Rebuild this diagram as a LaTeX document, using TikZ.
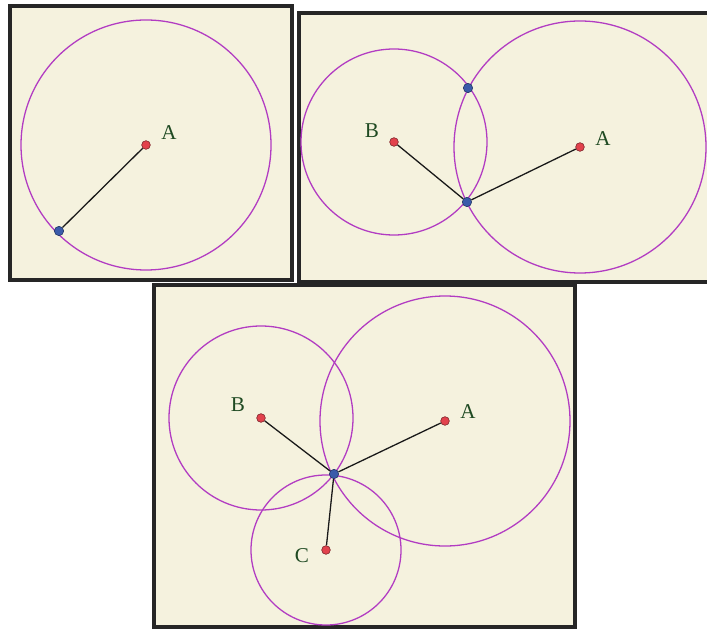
\documentclass[tikz,border=0pt]{standalone}
\usepackage{fontspec}
\setmainfont{Liberation Serif}
\usepackage{tikz}
\definecolor{paper}{HTML}{F5F2DE}
\definecolor{arcmag}{HTML}{B23CC2}
\definecolor{lblgreen}{HTML}{1F4A22}
\definecolor{ptred}{HTML}{E2424C}
\definecolor{ptblue}{HTML}{3A5BAA}
\tikzset{
  panel/.style={draw=black!85, line width=3.6pt, fill=paper},
  locus/.style={draw=arcmag, line width=1.1pt},
  spoke/.style={draw=black!90, line width=1.1pt},
  centre/.style={circle, draw=ptred!55!black, fill=ptred, minimum size=0.26cm, inner sep=0pt, line width=0.5pt},
  meet/.style={circle, draw=ptblue!60!black, fill=ptblue, minimum size=0.28cm, inner sep=0pt, line width=0.5pt},
  letter/.style={text=lblgreen, font=\fontsize{18}{20}\selectfont, inner sep=0pt}
}
\begin{document}
\begin{tikzpicture}[x=0.03cm, y=-0.03cm]
  \useasboundingbox (0,0) rectangle (707,629);
  \clip (0,0) rectangle (707,629);

  \draw[panel] (10,6) rectangle (292,280);
  \coordinate (a1) at (146,145);
  \draw[locus] (a1) circle[radius=125];
  \node[centre] (A1) at (a1) {};
  \node[meet] (P1) at (59,231) {};
  \draw[spoke] (A1) -- (P1);
  \node[letter] (lA1) at (169,133) {A};

  \draw[panel] (299,13) rectangle (720,282);
  \coordinate (b2) at (394,142);
  \coordinate (a2) at (580,147);
  \draw[locus] (b2) circle[radius=93];
  \draw[locus] (a2) circle[radius=126];
  \node[centre] (B2) at (b2) {};
  \node[centre] (A2) at (a2) {};
  \node[meet] (Q2) at (468,88) {};
  \node[meet] (P2) at (467,202) {};
  \draw[spoke] (B2) -- (P2);
  \draw[spoke] (A2) -- (P2);
  \node[letter] (lB2) at (372,131) {B};
  \node[letter] (lA2) at (603,139) {A};

  \draw[panel] (154,285) rectangle (575,627);
  \coordinate (b3) at (261,418);
  \coordinate (a3) at (445,421);
  \coordinate (c3) at (326,550);
  \draw[locus] (b3) circle[radius=92];
  \draw[locus] (a3) circle[radius=125];
  \draw[locus] (c3) circle[radius=75];
  \node[centre] (B3) at (b3) {};
  \node[centre] (A3) at (a3) {};
  \node[centre] (C3) at (c3) {};
  \node[meet] (P3) at (334,474) {};
  \draw[spoke] (B3) -- (P3);
  \draw[spoke] (A3) -- (P3);
  \draw[spoke] (C3) -- (P3);
  \node[letter] (lB3) at (238,405) {B};
  \node[letter] (lA3) at (468,412) {A};
  \node[letter] (lC3) at (302,556) {C};
\end{tikzpicture}
\end{document}
